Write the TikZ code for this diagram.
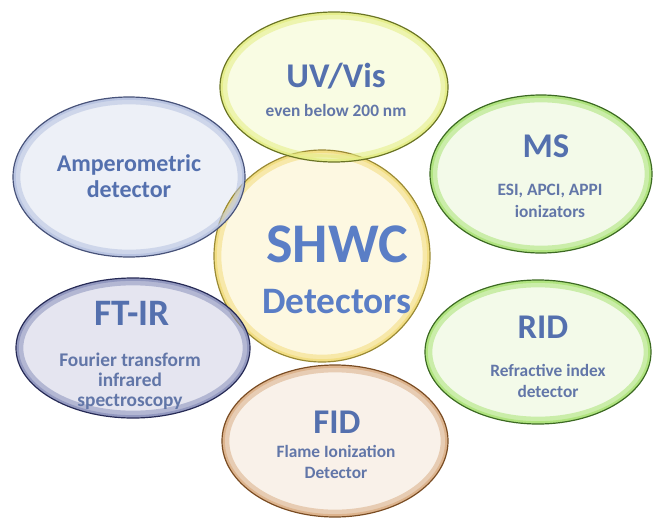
\documentclass[tikz,border=0pt]{standalone}
\usepackage{fontspec}
\setmainfont{Carlito}
\usetikzlibrary{positioning}
% bubble colours: F fill, G glow, E edge
\definecolor{cenF}{HTML}{FDF6DA}\definecolor{cenG}{HTML}{F2DC7C}\definecolor{cenE}{HTML}{9A8A34}
\definecolor{uvF}{HTML}{F8FBDC}\definecolor{uvG}{HTML}{E4EE84}\definecolor{uvE}{HTML}{6A7424}
\definecolor{ampF}{HTML}{E8ECF5}\definecolor{ampG}{HTML}{B6C2E0}\definecolor{ampE}{HTML}{48537A}
\definecolor{msF}{HTML}{F0F9E4}\definecolor{msG}{HTML}{A9E274}\definecolor{msE}{HTML}{3C6A22}
\definecolor{ftirF}{HTML}{DEDFEC}\definecolor{ftirG}{HTML}{8C92BC}\definecolor{ftirE}{HTML}{262A56}
\definecolor{ridF}{HTML}{F0F9E4}\definecolor{ridG}{HTML}{A9E274}\definecolor{ridE}{HTML}{3C6A22}
\definecolor{fidF}{HTML}{F7EEE4}\definecolor{fidG}{HTML}{DAAE86}\definecolor{fidE}{HTML}{7A4C22}
\definecolor{txtblue}{HTML}{5470AE}
\definecolor{subblue}{HTML}{6276A8}
\definecolor{bigblue}{HTML}{5A7EC6}
\tikzset{
  title/.style={font=\bfseries\fontsize{26}{28}\selectfont,text=txtblue},
  sub/.style={font=\bfseries\fontsize{13}{16}\selectfont,text=subblue,align=center},
  big/.style={font=\bfseries\fontsize{42}{44}\selectfont,text=bigblue}
}
\begin{document}
\begin{tikzpicture}[x=0.75pt,y=-0.75pt]
\useasboundingbox (0,0) rectangle (654,518);
%bubble fills
\foreach \n/\x/\y/\rx/\ry/\col in {cen/322/256/108/106/cen,amp/129/177/116/80/amp,
ftir/133/348/117/70/ftir,ms/541/174/111/79/ms,rid/538/352/113/72/rid,
uv/334/87/114/75/uv,fid/335/441/113/76/fid}{
\coordinate (\n) at (\x,\y);
\fill[\col F,fill opacity=.8](\n)ellipse[x radius=\rx,y radius=\ry];
}
%glow and edges
\foreach \n/\rx/\ry/\col in {cen/108/106/cen,amp/116/80/amp,ftir/117/70/ftir,
ms/111/79/ms,rid/113/72/rid,uv/114/75/uv,fid/113/76/fid}{
\begin{scope}
\draw[\col G,line width=5pt,opacity=.55](\n)ellipse[x radius={\rx-4},y radius={\ry-4}];
\draw[\col G,line width=2pt,opacity=.8](\n)ellipse[x radius={\rx-1.5},y radius={\ry-1.5}];
\draw[\col E,line width=.9pt](\n)ellipse[x radius=\rx,y radius=\ry];
\end{scope}
}
%labels
\node[big](shwc)at(337,244){SHWC};
\node[big,font=\bfseries\fontsize{28}{30}\selectfont](det)at(337,302){Detectors};
\node[title](uvt)at(336,76){UV/Vis};
\node[sub](uvs)at(336,110){even below 200 nm};
\node[sub,font=\bfseries\fontsize{18}{20}\selectfont,text=txtblue](ampt)at(129,176){Amperometric\\detector};
\node[title](mst)at(546,146){MS};
\node[sub](mss)at(550,201){ESI, APCI, APPI\\ionizators};
\node[title,font=\bfseries\fontsize{28}{30}\selectfont](ftirt)at(132,313){FT-IR};
\node[sub,font=\bfseries\fontsize{14.5}{15}\selectfont](ftirs)at(130,381){Fourier transform\\infrared\\spectroscopy};
\node[title](ridt)at(543,327){RID};
\node[sub](rids)at(548,381){Refractive index\\detector};
\node[title](fidt)at(337,422){FID};
\node[sub](fids)at(336,462){Flame Ionization\\Detector};
\end{tikzpicture}
\end{document}
